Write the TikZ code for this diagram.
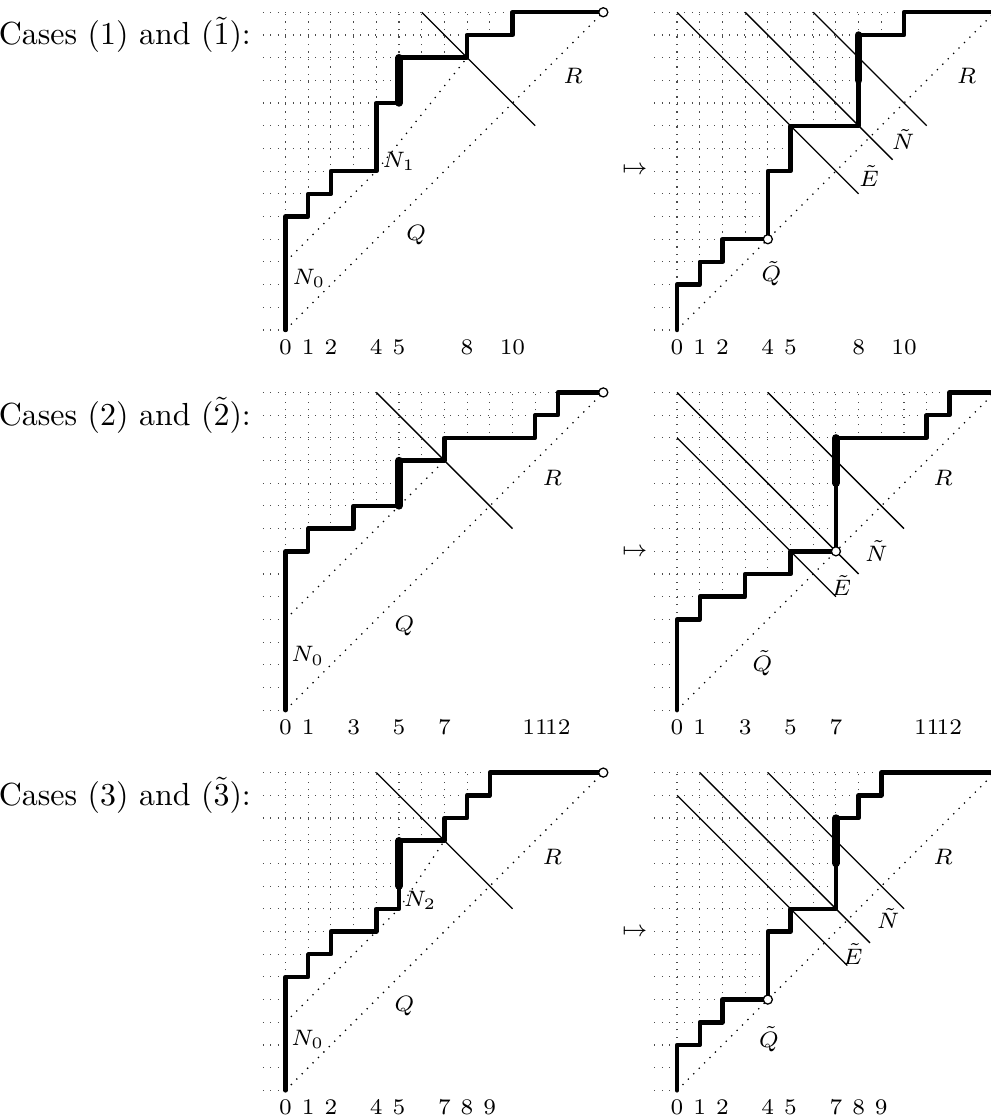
\documentclass[tikz,border=0pt]{standalone}
\usepackage{amsmath,amssymb}
\usepackage{tikz}
\usetikzlibrary{calc}

% lattice paths of the six panels
\newcommand{\pathA}{(0,0) -- (0,5) -- (1,5) -- (1,6) -- (2,6) -- (2,7) -- (4,7) -- (4,10) -- (5,10) -- (5,12) -- (8,12) -- (8,13) -- (10,13) -- (10,14) -- (14,14)}
\newcommand{\pathB}{(0,0) -- (0,2) -- (1,2) -- (1,3) -- (2,3) -- (2,4) -- (4,4) -- (4,7) -- (5,7) -- (5,9) -- (8,9) -- (8,13) -- (10,13) -- (10,14) -- (14,14)}
\newcommand{\pathC}{(0,0) -- (0,7) -- (1,7) -- (1,8) -- (3,8) -- (3,9) -- (5,9) -- (5,11) -- (7,11) -- (7,12) -- (11,12) -- (11,13) -- (12,13) -- (12,14) -- (14,14)}
\newcommand{\pathD}{(0,0) -- (0,4) -- (1,4) -- (1,5) -- (3,5) -- (3,6) -- (5,6) -- (5,7) -- (7,7) -- (7,12) -- (11,12) -- (11,13) -- (12,13) -- (12,14) -- (14,14)}
\newcommand{\pathE}{(0,0) -- (0,5) -- (1,5) -- (1,6) -- (2,6) -- (2,7) -- (4,7) -- (4,8) -- (5,8) -- (5,11) -- (7,11) -- (7,12) -- (8,12) -- (8,13) -- (9,13) -- (9,14) -- (14,14)}
\newcommand{\pathF}{(0,0) -- (0,2) -- (1,2) -- (1,3) -- (2,3) -- (2,4) -- (4,4) -- (4,7) -- (5,7) -- (5,8) -- (7,8) -- (7,12) -- (8,12) -- (8,13) -- (9,13) -- (9,14) -- (14,14)}

% dotted grid above the path
\newcommand{\latticegrid}[1]{%
  \begin{scope}
    \clip #1 -- (14.1,14) -- (14.1,14.1) -- (-1.1,14.1) -- (-1.1,-0.1) -- (0,-0.1) -- cycle;
    \foreach \k in {0,...,14} {
      \draw[gridline] (-1,\k) -- (14,\k);
      \draw[gridline] (\k,0) -- (\k,14);
    }
  \end{scope}}

\begin{document}
\begin{tikzpicture}[x=0.25cm, y=0.25cm,
    gridline/.style={dotted, line width=0.35pt, black!70},
    diagline/.style={dotted, line width=0.4pt},
    cutline/.style={line width=0.4pt},
    lattice/.style={line width=1.4pt, line join=round, line cap=round},
    runbold/.style={line width=2.3pt, line cap=round},
    endmark/.style={fill=white, line width=0.4pt},
    lbl/.style={font=\fontsize{7}{8}\selectfont, inner sep=0pt},
    casetext/.style={anchor=base east, inner sep=0pt}]
  \useasboundingbox (-12.58,-34.63) rectangle (31.08,14.54);

  % case 1
  \node[casetext] (caseA) at (-1.5,12.56) {Cases (1) and ($\tilde{1}$):};
  \begin{scope}
    \latticegrid{\pathA}
    \draw[diagline] (0,0) -- (14,14);
    \draw[diagline] (0,3) -- (4,7) -- (8,12);
    \draw[cutline] (6,14) -- (11,9);
    \draw[lattice] \pathA;
    \draw[runbold] (5,10) -- (5,12);
    \draw[endmark] (14,14) circle (0.2);
    \node[lbl] (nzeroA) at (1.03,2.29) {$N_0$};
    \node[lbl] (noneA) at (5.0,7.42) {$N_1$};
    \node[lbl] (qA) at (5.76,4.2) {$Q$};
    \node[lbl] (rA) at (12.67,11.2) {$R$};
    \foreach \n in {0,1,2,4,5,8,10}
      \node[lbl] (xA\n) at (\n,-0.75) {\n};
  \end{scope}
  \begin{scope}[shift={(17.25,0)}]
    \latticegrid{\pathB}
    \draw[diagline] (0,0) -- (14,14);
    \draw[cutline] (0,14) -- (8,6);
    \draw[cutline] (3,14) -- (9.5,7.5);
    \draw[cutline] (6,14) -- (11,9);
    \draw[lattice] \pathB;
    \draw[runbold] (8,11) -- (8,13);
    \draw[endmark] (4,4) circle (0.2);
    \node[lbl] (mapB) at (-1.86,7.04) {$\mapsto$};
    \node[lbl] (ntB) at (9.96,8.4) {$\tilde{N}$};
    \node[lbl] (etB) at (8.46,6.8) {$\tilde{E}$};
    \node[lbl] (qtB) at (4.16,2.48) {$\tilde{Q}$};
    \node[lbl] (rB) at (12.75,11.2) {$R$};
    \foreach \n in {0,1,2,4,5,8,10}
      \node[lbl] (xB\n) at (\n,-0.75) {\n};
  \end{scope}

  % case 2
  \node[casetext] (caseC) at (-1.5,-4.19) {Cases (2) and ($\tilde{2}$):};
  \begin{scope}[shift={(0,-16.75)}]
    \latticegrid{\pathC}
    \draw[diagline] (0,0) -- (14,14);
    \draw[diagline] (0,4) -- (7,11);
    \draw[cutline] (4,14) -- (10,8);
    \draw[lattice] \pathC;
    \draw[runbold] (5,9) -- (5,11);
    \draw[endmark] (14,14) circle (0.2);
    \node[lbl] (nzeroC) at (0.98,2.39) {$N_0$};
    \node[lbl] (qC) at (5.24,3.69) {$Q$};
    \node[lbl] (rC) at (11.75,10.25) {$R$};
    \foreach \n in {0,1,3,5,7,11,12}
      \node[lbl] (xC\n) at (\n,-0.75) {\n};
  \end{scope}
  \begin{scope}[shift={(17.25,-16.75)}]
    \latticegrid{\pathD}
    \draw[diagline] (0,0) -- (14,14);
    \draw[cutline] (0,14) -- (8,6);
    \draw[cutline] (0,12) -- (7,5);
    \draw[cutline] (4,14) -- (10,8);
    \draw[lattice] \pathD;
    \draw[runbold] (7,10) -- (7,12);
    \draw[endmark] (7,7) circle (0.2);
    \node[lbl] (mapD) at (-1.86,6.96) {$\mapsto$};
    \node[lbl] (ntD) at (8.78,7.0) {$\tilde{N}$};
    \node[lbl] (etD) at (7.24,5.49) {$\tilde{E}$};
    \node[lbl] (qtD) at (3.76,2.06) {$\tilde{Q}$};
    \node[lbl] (rD) at (11.72,10.25) {$R$};
    \foreach \n in {0,1,3,5,7,11,12}
      \node[lbl] (xD\n) at (\n,-0.75) {\n};
  \end{scope}

  % case 3
  \node[casetext] (caseE) at (-1.5,-20.94) {Cases (3) and ($\tilde{3}$):};
  \begin{scope}[shift={(0,-33.5)}]
    \latticegrid{\pathE}
    \draw[diagline] (0,0) -- (14,14);
    \draw[diagline] (0,3) -- (5,8) -- (7,11);
    \draw[cutline] (4,14) -- (10,8);
    \draw[lattice] \pathE;
    \draw[runbold] (5,9) -- (5,11);
    \draw[endmark] (14,14) circle (0.2);
    \node[lbl] (nzeroE) at (0.98,2.26) {$N_0$};
    \node[lbl] (ntwoE) at (5.93,8.38) {$N_2$};
    \node[lbl] (qE) at (5.24,3.73) {$Q$};
    \node[lbl] (rE) at (11.75,10.3) {$R$};
    \foreach \n in {0,1,2,4,5,7,8,9}
      \node[lbl] (xE\n) at (\n,-0.75) {\n};
  \end{scope}
  \begin{scope}[shift={(17.25,-33.5)}]
    \latticegrid{\pathF}
    \draw[diagline] (0,0) -- (14,14);
    \draw[cutline] (0,13) -- (7.5,5.5);
    \draw[cutline] (1,14) -- (8.5,6.5);
    \draw[cutline] (4,14) -- (10,8);
    \draw[lattice] \pathF;
    \draw[runbold] (7,10) -- (7,12);
    \draw[endmark] (4,4) circle (0.2);
    \node[lbl] (mapF) at (-1.86,6.97) {$\mapsto$};
    \node[lbl] (ntF) at (9.3,7.57) {$\tilde{N}$};
    \node[lbl] (etF) at (7.75,6.0) {$\tilde{E}$};
    \node[lbl] (qtF) at (4.05,2.26) {$\tilde{Q}$};
    \node[lbl] (rF) at (11.72,10.27) {$R$};
    \foreach \n in {0,1,2,4,5,7,8,9}
      \node[lbl] (xF\n) at (\n,-0.75) {\n};
  \end{scope}
\end{tikzpicture}
\end{document}
